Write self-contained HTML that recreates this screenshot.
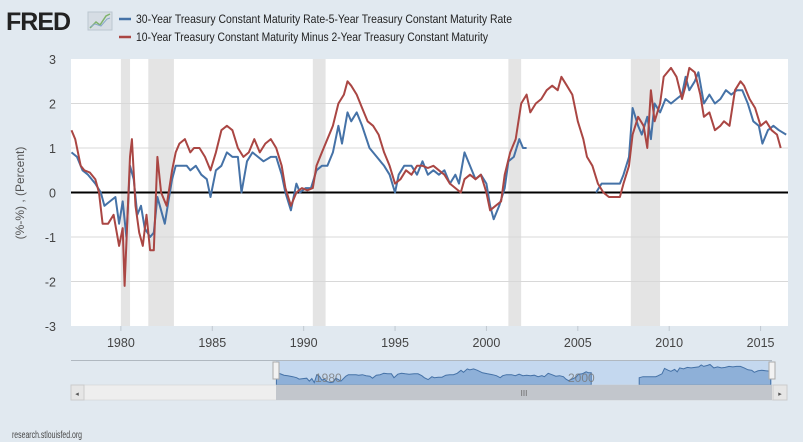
<!DOCTYPE html>
<html><head><meta charset="utf-8">
<style>
body{margin:0;background:#e1e9f0;}
#wrap{position:relative;width:803px;height:442px;background:#e1e9f0;font-family:"Liberation Sans",sans-serif;overflow:hidden}
</style></head>
<body>
<div id="wrap">
<svg id="svg" width="803" height="442">
  <g>
    <text x="6" y="30" font-size="25" font-weight="bold" fill="#222" font-family="Liberation Sans" letter-spacing="-1">FRED</text>
    <rect x="88" y="12" width="24" height="18" fill="#d6dde4" stroke="#bcc6cf"/>
    <polyline points="90,28 96,22 100,25 106,16 110,14" fill="none" stroke="#7fb36b" stroke-width="1.5"/>
    <polyline points="90,27 95,24 101,26 107,19 110,18" fill="none" stroke="#88a8c8" stroke-width="1"/>
  </g>
  <g>
    <line x1="119" y1="19" x2="131" y2="19" stroke="#4572a7" stroke-width="2.5"/>
    <text x="136" y="23" font-size="12.3" fill="#222" textLength="376" lengthAdjust="spacingAndGlyphs">30-Year Treasury Constant Maturity Rate-5-Year Treasury Constant Maturity Rate</text>
    <line x1="119" y1="37" x2="131" y2="37" stroke="#aa4643" stroke-width="2.5"/>
    <text x="136" y="41" font-size="12.3" fill="#222" textLength="352" lengthAdjust="spacingAndGlyphs">10-Year Treasury Constant Maturity Minus 2-Year Treasury Constant Maturity</text>
  </g>
  <rect x="71" y="59" width="717" height="267" fill="#fff"/>
  <g id="rec"></g>
  <g id="grid"></g>
  <g id="series"></g>
  <g id="axes"></g>
  <text transform="translate(24,193) rotate(-90)" text-anchor="middle" font-size="12" fill="#555">(%-%) , (Percent)</text>
  <g>
    <line x1="71" y1="360.5" x2="772" y2="360.5" stroke="#b0b8c0"/>
    <rect x="276" y="361" width="496" height="24" fill="#c4d8ef"/>
    <g id="nav"></g>
    <rect x="273" y="362" width="6" height="17" fill="#f2f2f2" stroke="#aaa"/>
    <rect x="769" y="362" width="6" height="17" fill="#f2f2f2" stroke="#aaa"/>
    <text x="315" y="382" font-size="12" fill="#777" opacity="0.8">1980</text>
    <text x="568" y="382" font-size="12" fill="#777" opacity="0.8">2000</text>
  </g>
  <g>
    <rect x="71" y="385" width="716" height="15" fill="#eeeeee" stroke="#ccc" stroke-width="0.5"/>
    <rect x="276" y="385" width="496" height="15" fill="#c2c6cc"/>
    <text x="524" y="396" font-size="8" fill="#666" text-anchor="middle">III</text>
    <rect x="71" y="385" width="13" height="15" fill="#e6e6e6" stroke="#ccc"/>
    <text x="77" y="396" font-size="7" fill="#555" text-anchor="middle">◂</text>
    <rect x="773" y="385" width="14" height="15" fill="#e6e6e6" stroke="#ccc"/>
    <text x="780" y="396" font-size="7" fill="#555" text-anchor="middle">▸</text>
  </g>
  <text x="12" y="438" font-size="10" fill="#444" textLength="70" lengthAdjust="spacingAndGlyphs">research.stlouisfed.org</text>
</svg>
</div>
<script>
const yTicks=[3,2,1,0,-1,-2,-3];
const xTicks=[1980,1985,1990,1995,2000,2005,2010,2015];
const recessions=[[1980.0,1980.5],[1981.5,1982.9],[1990.5,1991.2],[2001.2,2001.9],[2007.9,2009.5]];
const redYears=[1977.3,1977.5,1977.8,1978.0,1978.3,1978.6,1978.8,1979.0,1979.3,1979.6,1979.9,1980.1,1980.2,1980.5,1980.6,1980.8,1981.0,1981.2,1981.4,1981.6,1981.8,1982.0,1982.2,1982.5,1982.8,1983.0,1983.2,1983.5,1983.8,1984.0,1984.3,1984.6,1984.9,1985.2,1985.5,1985.8,1986.1,1986.4,1986.7,1987.0,1987.3,1987.6,1987.9,1988.2,1988.5,1988.8,1989.0,1989.3,1989.6,1989.9,1990.2,1990.5,1990.7,1991.0,1991.3,1991.6,1991.9,1992.2,1992.4,1992.6,1992.9,1993.2,1993.5,1993.8,1994.1,1994.4,1994.7,1995.0,1995.3,1995.6,1995.9,1996.2,1996.5,1996.8,1997.1,1997.4,1997.7,1998.0,1998.3,1998.6,1998.8,1999.1,1999.4,1999.7,2000.0,2000.2,2000.5,2000.8,2001.0,2001.3,2001.6,2001.9,2002.2,2002.4,2002.7,2003.0,2003.3,2003.6,2003.9,2004.1,2004.4,2004.7,2005.0,2005.3,2005.5,2005.8,2006.1,2006.4,2006.7,2007.0,2007.3,2007.5,2007.8,2008.0,2008.3,2008.6,2008.8,2009.0,2009.2,2009.5,2009.7,2010.1,2010.4,2010.7,2010.9,2011.1,2011.4,2011.7,2011.9,2012.2,2012.5,2012.8,2013.0,2013.3,2013.6,2013.9,2014.1,2014.4,2014.7,2015.0,2015.3,2015.6,2015.9,2016.1];
const redValues=[1.4,1.2,0.6,0.5,0.45,0.3,0.0,-0.7,-0.7,-0.5,-1.2,-0.8,-2.1,0.8,1.2,-0.3,-0.9,-1.2,-0.5,-1.3,-1.3,0.8,0.0,-0.3,0.5,0.9,1.1,1.2,0.9,1.0,1.0,0.8,0.5,0.9,1.4,1.5,1.4,1.0,0.8,0.9,1.2,0.9,1.1,1.2,1.0,0.6,0.1,-0.3,0.0,0.1,0.05,0.1,0.6,0.9,1.2,1.5,2.0,2.2,2.5,2.4,2.2,1.9,1.6,1.5,1.3,0.9,0.6,0.2,0.3,0.5,0.4,0.6,0.6,0.55,0.6,0.5,0.4,0.2,0.1,0.0,0.3,0.4,0.3,0.4,0.0,-0.4,-0.3,-0.2,0.4,0.9,1.2,2.0,2.2,1.8,2.0,2.1,2.3,2.4,2.3,2.6,2.4,2.2,1.6,1.2,0.8,0.6,0.2,0.0,-0.1,-0.1,-0.1,0.2,0.6,1.3,1.7,1.5,1.0,2.3,1.6,2.0,2.6,2.8,2.6,2.1,2.4,2.8,2.7,2.2,1.7,1.8,1.4,1.5,1.6,1.5,2.3,2.5,2.4,2.1,1.9,1.5,1.6,1.4,1.3,1.0];
const blueYears=[1977.3,1977.6,1977.9,1978.2,1978.6,1978.9,1979.1,1979.4,1979.7,1979.9,1980.1,1980.3,1980.5,1980.7,1980.9,1981.1,1981.3,1981.6,1981.8,1982.0,1982.2,1982.4,1982.6,1982.8,1983.0,1983.3,1983.6,1983.8,1984.1,1984.4,1984.7,1984.9,1985.2,1985.5,1985.8,1986.1,1986.4,1986.6,1986.9,1987.2,1987.5,1987.8,1988.2,1988.5,1988.8,1989.0,1989.3,1989.6,1989.8,1990.1,1990.4,1990.7,1991.0,1991.3,1991.6,1991.9,1992.1,1992.4,1992.6,1992.9,1993.2,1993.6,1994.0,1994.4,1994.7,1995.0,1995.2,1995.5,1995.9,1996.2,1996.5,1996.8,1997.1,1997.4,1997.7,1998.0,1998.3,1998.5,1998.8,1999.1,1999.4,1999.7,2000.0,2000.2,2000.4,2000.7,2001.0,2001.2,2001.5,2001.8,2002.0,2002.2,null,2006.0,2006.3,2006.6,2007.0,2007.3,2007.5,2007.8,2008.0,2008.3,2008.5,2008.8,2009.0,2009.2,2009.5,2009.8,2010.1,2010.4,2010.7,2010.9,2011.1,2011.4,2011.6,2011.9,2012.2,2012.5,2012.8,2013.1,2013.4,2013.7,2014.0,2014.3,2014.6,2014.9,2015.1,2015.4,2015.7,2016.0,2016.4];
const blueValues=[0.9,0.8,0.5,0.4,0.2,0.0,-0.3,-0.2,-0.1,-0.7,-0.2,-1.0,0.6,0.3,-0.5,-0.3,-0.8,-1.0,-0.9,-0.1,-0.4,-0.7,-0.2,0.3,0.6,0.6,0.6,0.5,0.6,0.4,0.3,-0.1,0.5,0.6,0.9,0.8,0.8,0.0,0.7,0.9,0.8,0.7,0.8,0.8,0.4,0.0,-0.4,0.2,0.0,0.1,0.1,0.5,0.6,0.6,0.9,1.5,1.1,1.8,1.6,1.8,1.5,1.0,0.8,0.6,0.4,0.0,0.4,0.6,0.6,0.4,0.7,0.4,0.5,0.4,0.5,0.2,0.4,0.2,0.9,0.6,0.3,0.4,0.2,-0.3,-0.6,-0.3,0.1,0.7,0.8,1.2,1.0,1.0,null,0.0,0.2,0.2,0.2,0.2,0.4,0.8,1.9,1.5,1.3,1.7,1.2,2.0,1.8,2.1,2.0,2.1,2.2,2.6,2.3,2.5,2.7,2.0,2.2,2.0,2.1,2.3,2.2,2.3,2.3,2.0,1.6,1.5,1.1,1.4,1.5,1.4,1.3];

const NS='http://www.w3.org/2000/svg';
const L=71,R=788,T=59,B=326,x0=1977.27,x1=2016.5;
const X=v=>L+(v-x0)/(x1-x0)*(R-L);
const Y=v=>T+(3-v)/6*(B-T);
function mk(tag,at,parent){const e=document.createElementNS(NS,tag);for(const k in at)e.setAttribute(k,at[k]);document.getElementById(parent).appendChild(e);return e;}

recessions.forEach(r=>{
  const e=mk('rect',{x:X(r[0]),y:T,width:X(r[1])-X(r[0]),height:B-T,fill:'#e4e4e4'},'rec');
  
  
});
yTicks.forEach(t=>{
  if(t!==0&&t!==3&&t!==-3){const g=mk('line',{x1:L,x2:R,y1:Y(t),y2:Y(t),stroke:'#d8d8d8'},'grid');
  
  }
  const tx=mk('text',{x:56,y:Y(t)+5,'text-anchor':'end','font-size':'12.5',fill:'#444'},'axes');
  tx.textContent=t;
  
  
});
xTicks.forEach(t=>{
  const l=mk('line',{x1:X(t),x2:X(t),y1:B,y2:B+5,stroke:'#c0c8d0'},'axes');
  
  
  const tx=mk('text',{x:X(t),y:B+21,'text-anchor':'middle','font-size':'12.5',fill:'#444'},'axes');
  tx.textContent=t;
  
  
});
const z=mk('line',{x1:L,x2:R,y1:Y(0),y2:Y(0),stroke:'#000','stroke-width':2},'series');



function pathD(xs,vs,fx,fy){let d='',pen=false;for(let i=0;i<xs.length;i++){if(xs[i]==null||vs[i]==null){pen=false;continue;}d+=(pen?'L':'M')+fx(xs[i]).toFixed(1)+','+fy(vs[i]).toFixed(1);pen=true;}return d;}
const bl=mk('path',{d:pathD(blueYears,blueValues,X,Y),fill:'none',stroke:'#4572a7','stroke-width':2,'stroke-linejoin':'round'},'series');


const rd=mk('path',{d:pathD(redYears,redValues,X,Y),fill:'none',stroke:'#aa4643','stroke-width':2,'stroke-linejoin':'round'},'series');



const NX=v=>276+(v-x0)/(x1-x0)*(772-276);
const NY=v=>385-(v+1.5)/4.5*22;
let seg=[];const segs=[];
blueYears.forEach((y,i)=>{if(y==null){segs.push(seg);seg=[];}else seg.push([y,blueValues[i]]);});
segs.push(seg);
segs.forEach(s=>{
  let d='M'+NX(s[0][0]).toFixed(1)+',385';
  s.forEach(p=>d+='L'+NX(p[0]).toFixed(1)+','+NY(p[1]).toFixed(1));
  d+='L'+NX(s[s.length-1][0]).toFixed(1)+',385Z';
  const a=mk('path',{d:d,fill:'#8eb0d8',stroke:'#4572a7','stroke-width':1},'nav');
  
  
});
</script>
</body></html>
